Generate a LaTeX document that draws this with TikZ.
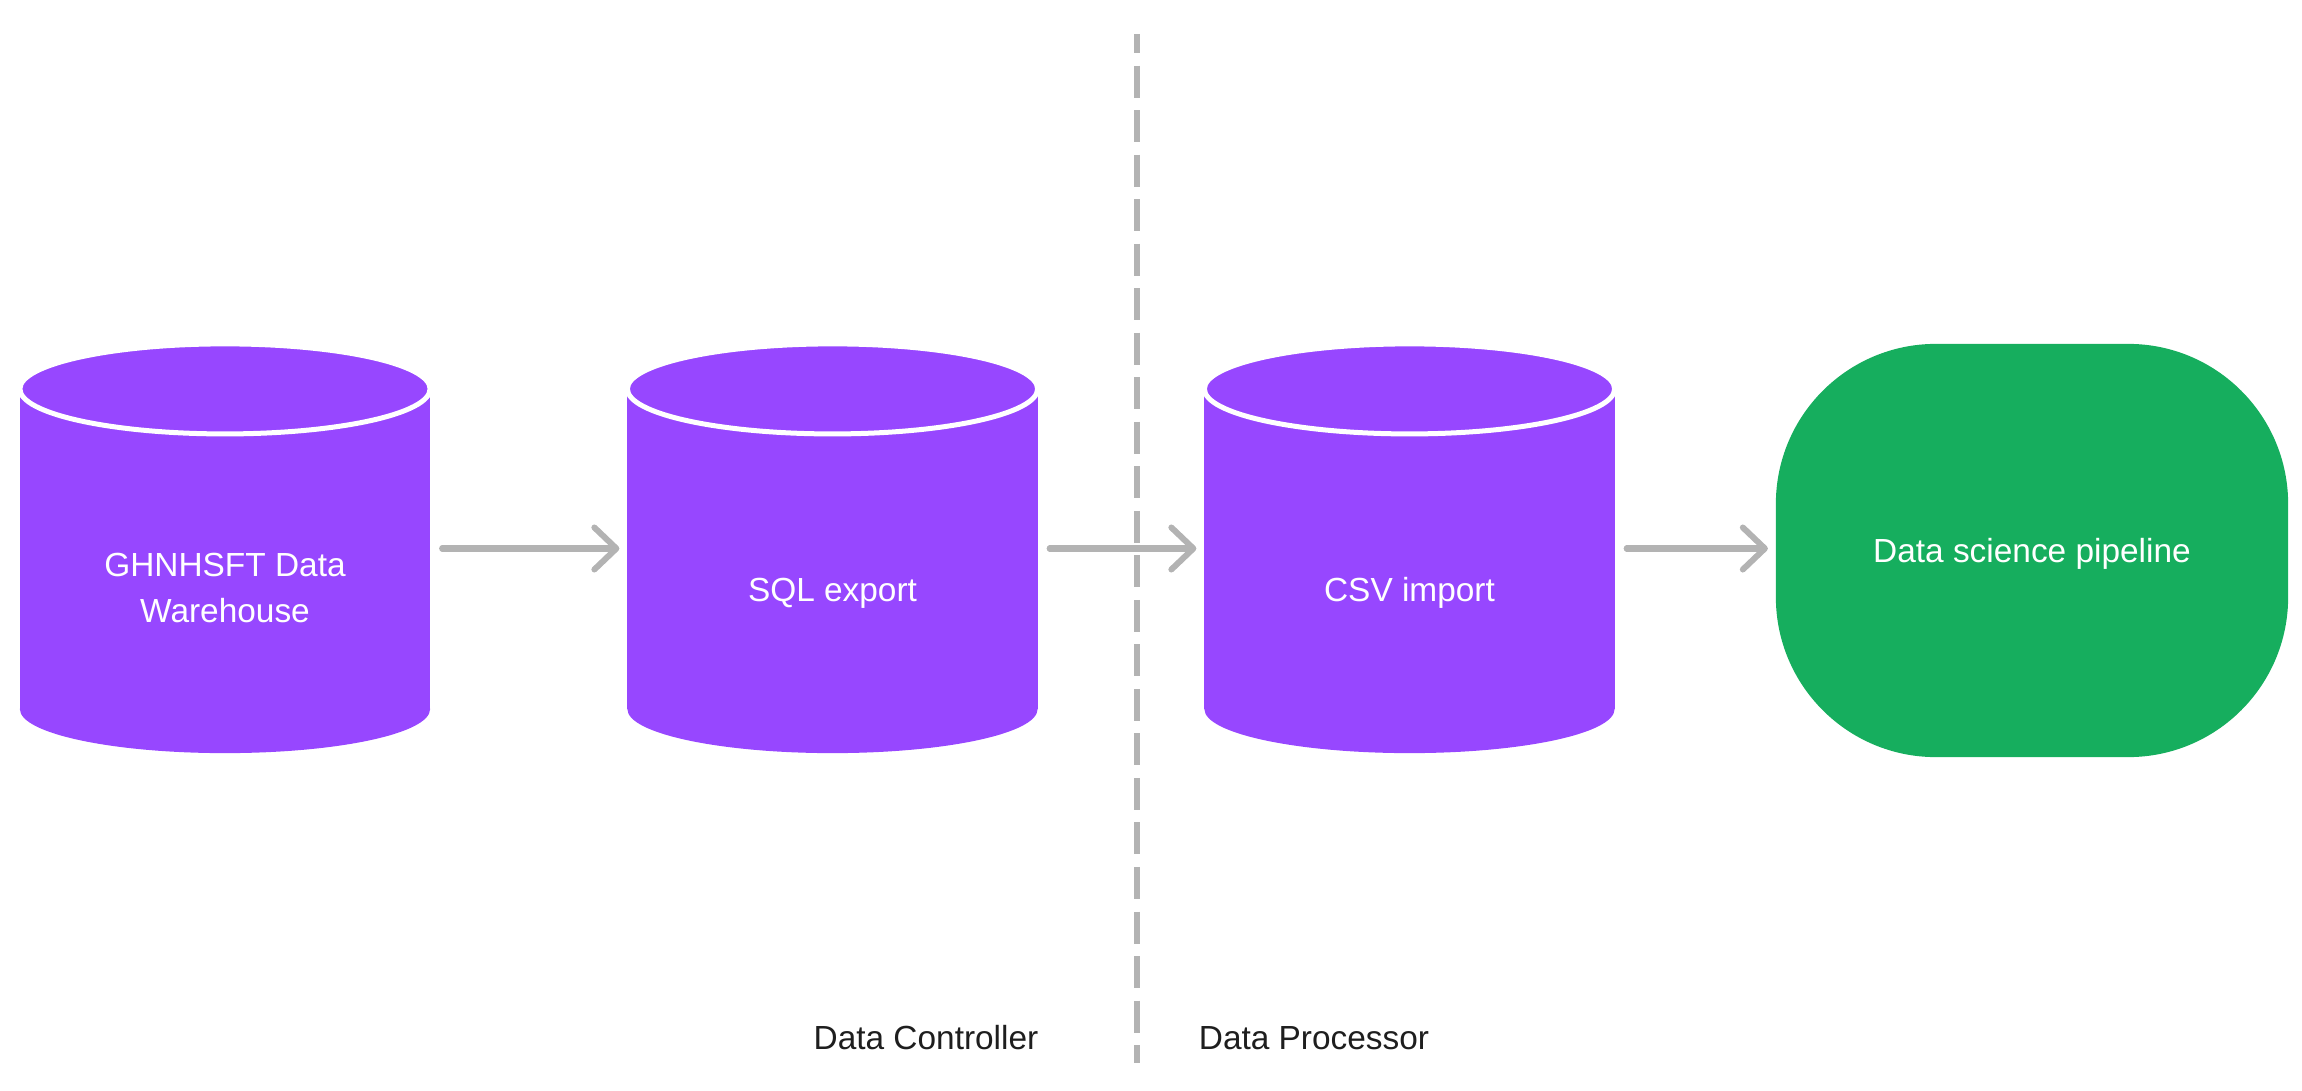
\documentclass[tikz,border=0pt]{standalone}
\usepackage{fontspec}
\setmainfont{Liberation Sans}
\usetikzlibrary{arrows.meta}
\definecolor{cylpurple}{HTML}{9747FF}
\definecolor{pipegreen}{HTML}{16AE5E}
\definecolor{linegray}{HTML}{B3B3B3}
\definecolor{labeldark}{HTML}{1E1E1E}
\newcommand\drawcyl[1]{%
  \fill[cylpurple] ([yshift=-0.45cm]#1.north west) rectangle ([yshift=0.44cm]#1.south east);
  \fill[cylpurple] ([yshift=0.44cm]#1.south) ellipse [x radius=2.05cm, y radius=0.44cm];
  \filldraw[cylpurple, draw=white, line width=0.05cm] ([yshift=-0.45cm]#1.north) ellipse [x radius=2.05cm, y radius=0.45cm];
}
\begin{document}
\begin{tikzpicture}[x=0.01cm, y=-0.01cm,
  basefont/.style={font=\fontsize{9.5pt}{13.1pt}\selectfont},
  cylbox/.style={minimum width=4.1cm, minimum height=4.09cm, inner sep=0pt, outer sep=0pt},
  pipebox/.style={basefont, fill=pipegreen, text=white, rounded corners=1.6cm,
    minimum width=5.12cm, minimum height=4.13cm, inner sep=0pt, outer sep=0pt,
    text height=6.8pt, text depth=0pt},
  cyltext/.style={basefont, text=white, align=center, inner sep=0pt},
  onelinetext/.style={text height=6.8pt, text depth=0pt},
  sidelabel/.style={basefont, text=labeldark, inner sep=0pt, text height=6.8pt, text depth=0pt},
  conn/.style={draw=linegray, line width=0.06cm, line cap=round,
    -{Straight Barb[length=0.22cm, width=0.42cm, line cap=round, line join=round]},
    shorten <=0.12cm, shorten >=0.08cm},
  divider/.style={draw=linegray, line width=0.06cm, dash pattern=on 0.32cm off 0.125cm, dash phase=0.13cm}
]
\useasboundingbox (0,0) rectangle (2302,1091);

% divider
\coordinate (dtop) at (1137,34);
\coordinate (dbot) at (1137,1063);
\draw[divider] (dtop) -- (dbot);

% cylinders
\node[cylbox] (c1) at (225,548.5) {};
\node[cylbox] (c2) at (832.5,548.5) {};
\node[cylbox] (c3) at (1409.5,548.5) {};
\drawcyl{c1}
\drawcyl{c2}
\drawcyl{c3}
\node[cyltext] (t1) at (225,588) {GHNHSFT Data\\Warehouse};
\node[cyltext, onelinetext] (t2) at (832.5,590) {SQL export};
\node[cyltext, onelinetext] (t3) at (1409.5,590) {CSV import};

% pipeline
\node[pipebox] (p) at (2032,550.5) {Data science pipeline};

% connectors
\draw[conn] (c1.east) -- (c2.west);
\draw[conn] (c2.east) -- (c3.west);
\draw[conn] (c3.east) -- (c3.east -| p.west);

% labels
\node[sidelabel] (lc) at (926,1038) {Data Controller};
\node[sidelabel] (lp) at (1314,1038) {Data Processor};
\end{tikzpicture}
\end{document}
